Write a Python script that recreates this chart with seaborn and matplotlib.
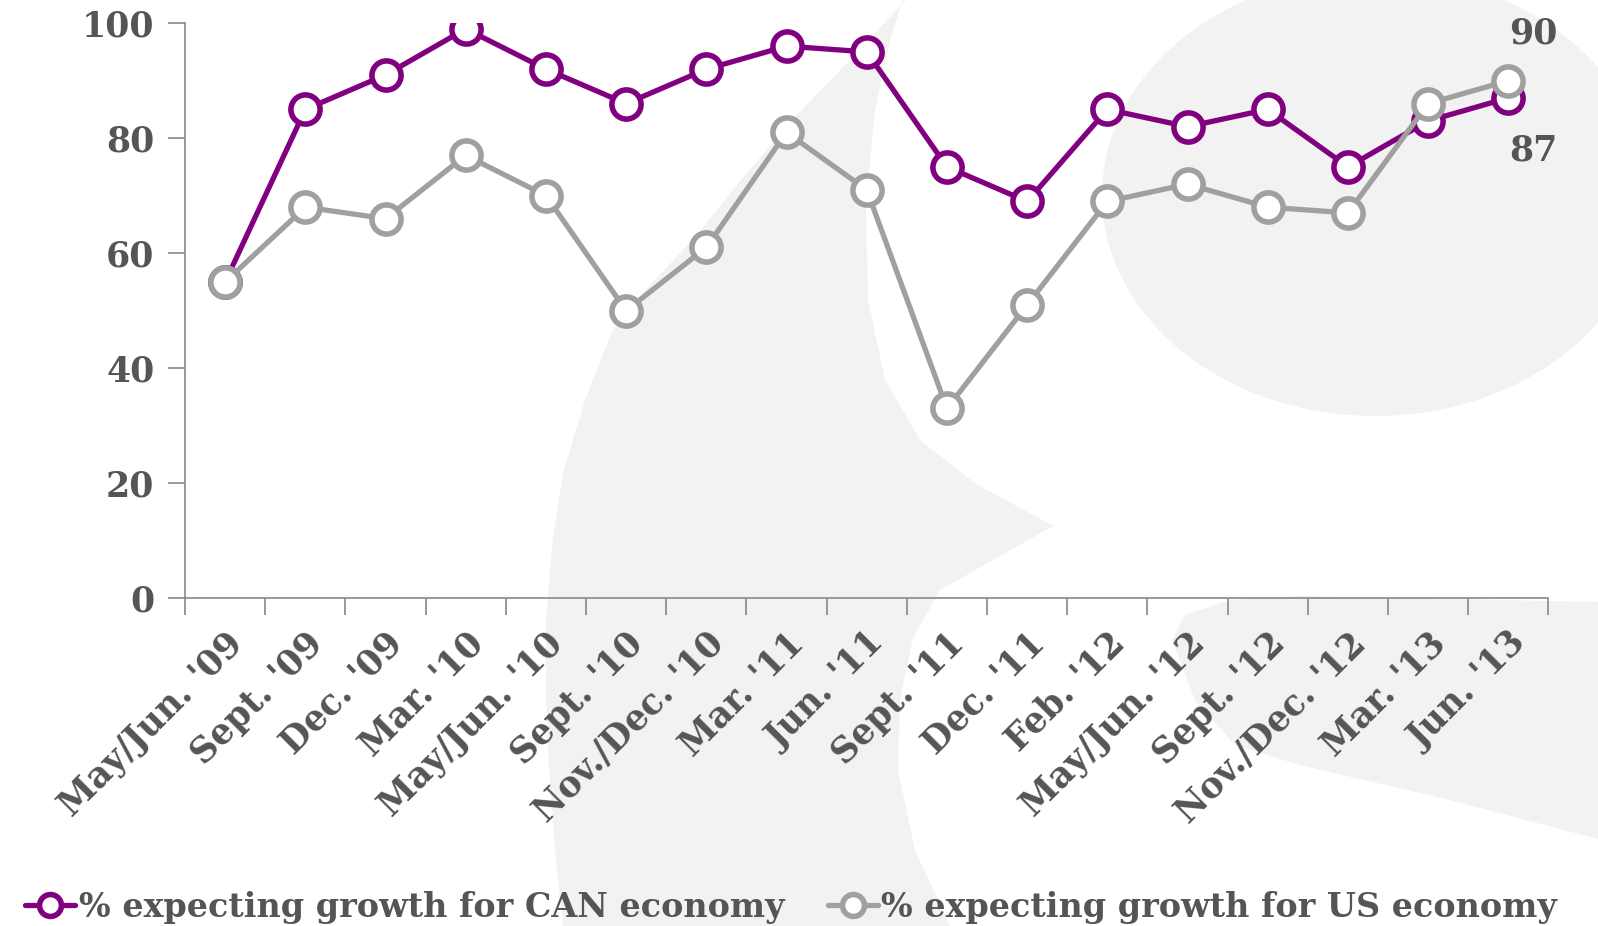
import numpy as np
import pandas as pd
import matplotlib
matplotlib.use("Agg")
import matplotlib.pyplot as plt
import seaborn as sns
from matplotlib.patches import Polygon, Ellipse

categories = ["May/Jun. '09", "Sept. '09", "Dec. '09", "Mar. '10", "May/Jun. '10",
              "Sept. '10", "Nov./Dec. '10", "Mar. '11", "Jun. '11", "Sept. '11",
              "Dec. '11", "Feb. '12", "May/Jun. '12", "Sept. '12", "Nov./Dec. '12",
              "Mar. '13", "Jun. '13"]
can_values = [55, 85, 91, 99, 92, 86, 92, 96, 95, 75, 69, 85, 82, 85, 75, 83, 87]
us_values = [55, 68, 66, 77, 70, 50, 61, 81, 71, 33, 51, 69, 72, 68, 67, 86, 90]
series_names = ["% expecting growth for CAN economy", "% expecting growth for US economy"]
y_ticks = [0, 20, 40, 60, 80, 100]

sns.set_theme(style="white")
plt.rcParams['font.family'] = ['DejaVu Serif']
plt.rcParams['font.weight'] = 'bold'

TXT = "#555555"
PURPLE = "#800080"
GRAY = "#a0a0a0"

W, H = 1598.0, 926.0
fig = plt.figure(figsize=(15.98, 9.26), dpi=100)
fig.patch.set_facecolor("white")

# decorative background watermark (pixel coords from top-left -> figure fraction)
bg = "#f2f2f2"
def fpts(pts):
    return [(px / W, 1 - py / H) for px, py in pts]

fig.patches.append(Ellipse((1375 / W, 1 - 195 / H), 2 * 273 / W, 2 * 221 / H,
                           transform=fig.transFigure, facecolor=bg,
                           edgecolor="none", zorder=-1))
crescent = [(906, 0), (850, 60), (794, 118), (745, 175), (696, 236), (650, 285),
            (612, 331), (585, 400), (563, 473), (552, 545), (546, 620), (546, 700),
            (549, 768), (555, 850), (563, 926),
            (950, 926), (915, 850), (898, 770), (900, 700), (913, 638), (940, 590),
            (1053, 526), (976, 484), (920, 440), (885, 380), (868, 300), (866, 207),
            (875, 110), (890, 40), (903, 0)]
fig.patches.append(Polygon(fpts(crescent), closed=True, transform=fig.transFigure,
                           facecolor=bg, edgecolor="none", zorder=-1))
band = [(1172, 640), (1185, 615), (1230, 600), (1300, 596), (1400, 598), (1598, 602),
        (1598, 839), (1450, 800), (1300, 765), (1235, 745), (1195, 700)]
fig.patches.append(Polygon(fpts(band), closed=True, transform=fig.transFigure,
                           facecolor=bg, edgecolor="none", zorder=-1))

ax = fig.add_axes([0.1158, 0.354, 0.8532, 0.621])
ax.set_facecolor("none")
ax.set_zorder(2)

x = np.arange(len(categories))
df = pd.DataFrame({"x": x, "can": can_values, "us": us_values})

sns.lineplot(data=df, x="x", y="can", ax=ax, color=PURPLE, lw=3.8, marker="o",
             markersize=21, markerfacecolor="white", markeredgecolor=PURPLE,
             markeredgewidth=4, label=series_names[0], zorder=3, legend=False)
sns.lineplot(data=df, x="x", y="us", ax=ax, color=GRAY, lw=3.8, marker="o",
             markersize=21, markerfacecolor="white", markeredgecolor=GRAY,
             markeredgewidth=4, label=series_names[1], zorder=4, legend=False)

ax.set_xlim(-0.5, len(categories) - 0.5)
ax.set_ylim(0, 100)
ax.set_xlabel("")
ax.set_ylabel("")

ax.set_xticks(np.arange(-0.5, len(categories), 1.0))
ax.set_xticklabels([])
ax.set_xticks(x, minor=True)
ax.set_xticklabels(categories, minor=True, rotation=45, ha="right",
                   rotation_mode="anchor", fontsize=25, color=TXT, fontweight="bold")
ax.tick_params(axis="x", which="minor", length=0, pad=20)
ax.tick_params(axis="x", which="major", length=12, width=1.2, color="#888888",
               direction="out", bottom=True)

ax.set_yticks(y_ticks)
ax.set_yticklabels([str(v) for v in y_ticks], fontsize=25, color=TXT, fontweight="bold")
ax.tick_params(axis="y", length=12, width=1.2, color="#888888", direction="out",
               left=True, pad=10)

for side in ["top", "right"]:
    ax.spines[side].set_visible(False)
for side in ["left", "bottom"]:
    ax.spines[side].set_color("#888888")
    ax.spines[side].set_linewidth(1.2)

# end labels
ax.annotate(str(us_values[-1]), (x[-1], us_values[-1]), xytext=(18, 34),
            textcoords="offset points", ha="center", va="center",
            fontsize=25, color=TXT, fontweight="bold")
ax.annotate(str(can_values[-1]), (x[-1], can_values[-1]), xytext=(18, -38),
            textcoords="offset points", ha="center", va="center",
            fontsize=25, color=TXT, fontweight="bold")

handles, labels = ax.get_legend_handles_labels()
fig.legend(handles, labels, loc="lower center", bbox_to_anchor=(0.495, -0.03), ncol=2,
           frameon=False, fontsize=24, handlelength=1.5, handletextpad=0.1,
           columnspacing=1.3, labelcolor=TXT, markerscale=0.75)

fig.savefig("out.png", dpi=100, facecolor="white")
